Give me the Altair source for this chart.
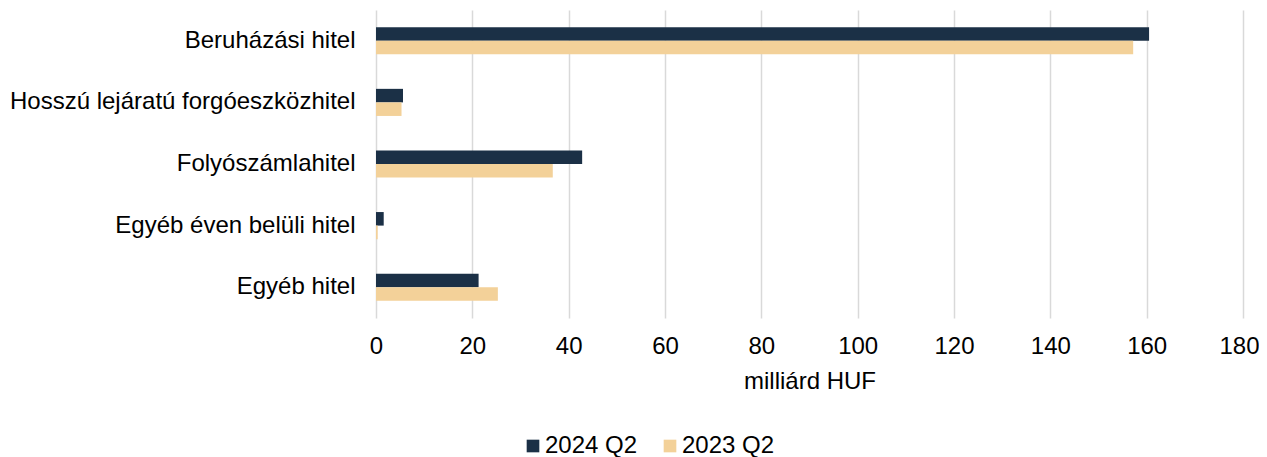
import altair as alt
import pandas as pd

categories = ["Beruházási hitel", "Hosszú lejáratú forgóeszközhitel", "Folyószámlahitel",
              "Egyéb éven belüli hitel", "Egyéb hitel"]
series = ["2024 Q2", "2023 Q2"]
values_2024 = [160.5, 5.6, 42.8, 1.6, 21.3]
values_2023 = [157.2, 5.3, 36.7, 0.35, 25.3]
colors = ["#1b3046", "#f3d199"]

rows = []
for c, a, b in zip(categories, values_2024, values_2023):
    rows.append({"cat": c, "series": series[0], "value": a})
    rows.append({"cat": c, "series": series[1], "value": b})
df = pd.DataFrame(rows)

font = "Liberation Sans"
fs = 24

chart = alt.Chart(df).mark_bar().encode(
    y=alt.Y("cat:N", sort=categories, title=None,
            scale=alt.Scale(paddingInner=0.56, paddingOuter=0.28),
            axis=alt.Axis(labelFontSize=fs, labelFont=font, labelColor="#000000",
                          ticks=False, domain=False, labelPadding=21, labelLimit=500)),
    yOffset=alt.YOffset("series:N", sort=series),
    x=alt.X("value:Q", title="milliárd HUF",
            scale=alt.Scale(domain=[0, 180], nice=False),
            axis=alt.Axis(values=list(range(0, 181, 20)), labelFontSize=fs, labelFont=font,
                          labelColor="#000000", ticks=False, domain=False, labelPadding=16,
                          labelFlush=False,
                          labelOffset={"condition": {"test": "datum.value == 180", "value": -4},
                                       "value": 0},
                          titleFontSize=fs, titleFont=font, titleFontWeight="normal",
                          titleColor="#000000", titlePadding=11,
                          grid=True, gridColor="#d9d9d9", gridWidth=1.5)),
    color=alt.Color("series:N", sort=series,
                    scale=alt.Scale(domain=series, range=colors),
                    legend=alt.Legend(title=None, orient="none", direction="horizontal",
                                      legendX=145, legendY=424, symbolType="square",
                                      symbolSize=160, symbolStrokeWidth=0,
                                      labelFontSize=fs, labelFont=font, labelColor="#000000",
                                      columnPadding=20, labelOffset=0)),
).properties(
    width=867, height=308,
    autosize=alt.AutoSizeParams(type="none"),
    padding={"left": 368, "top": 2, "right": 16, "bottom": 139},
).configure_view(stroke=None)

chart.save("out.html", embed_options={"renderer": "svg", "actions": False})
